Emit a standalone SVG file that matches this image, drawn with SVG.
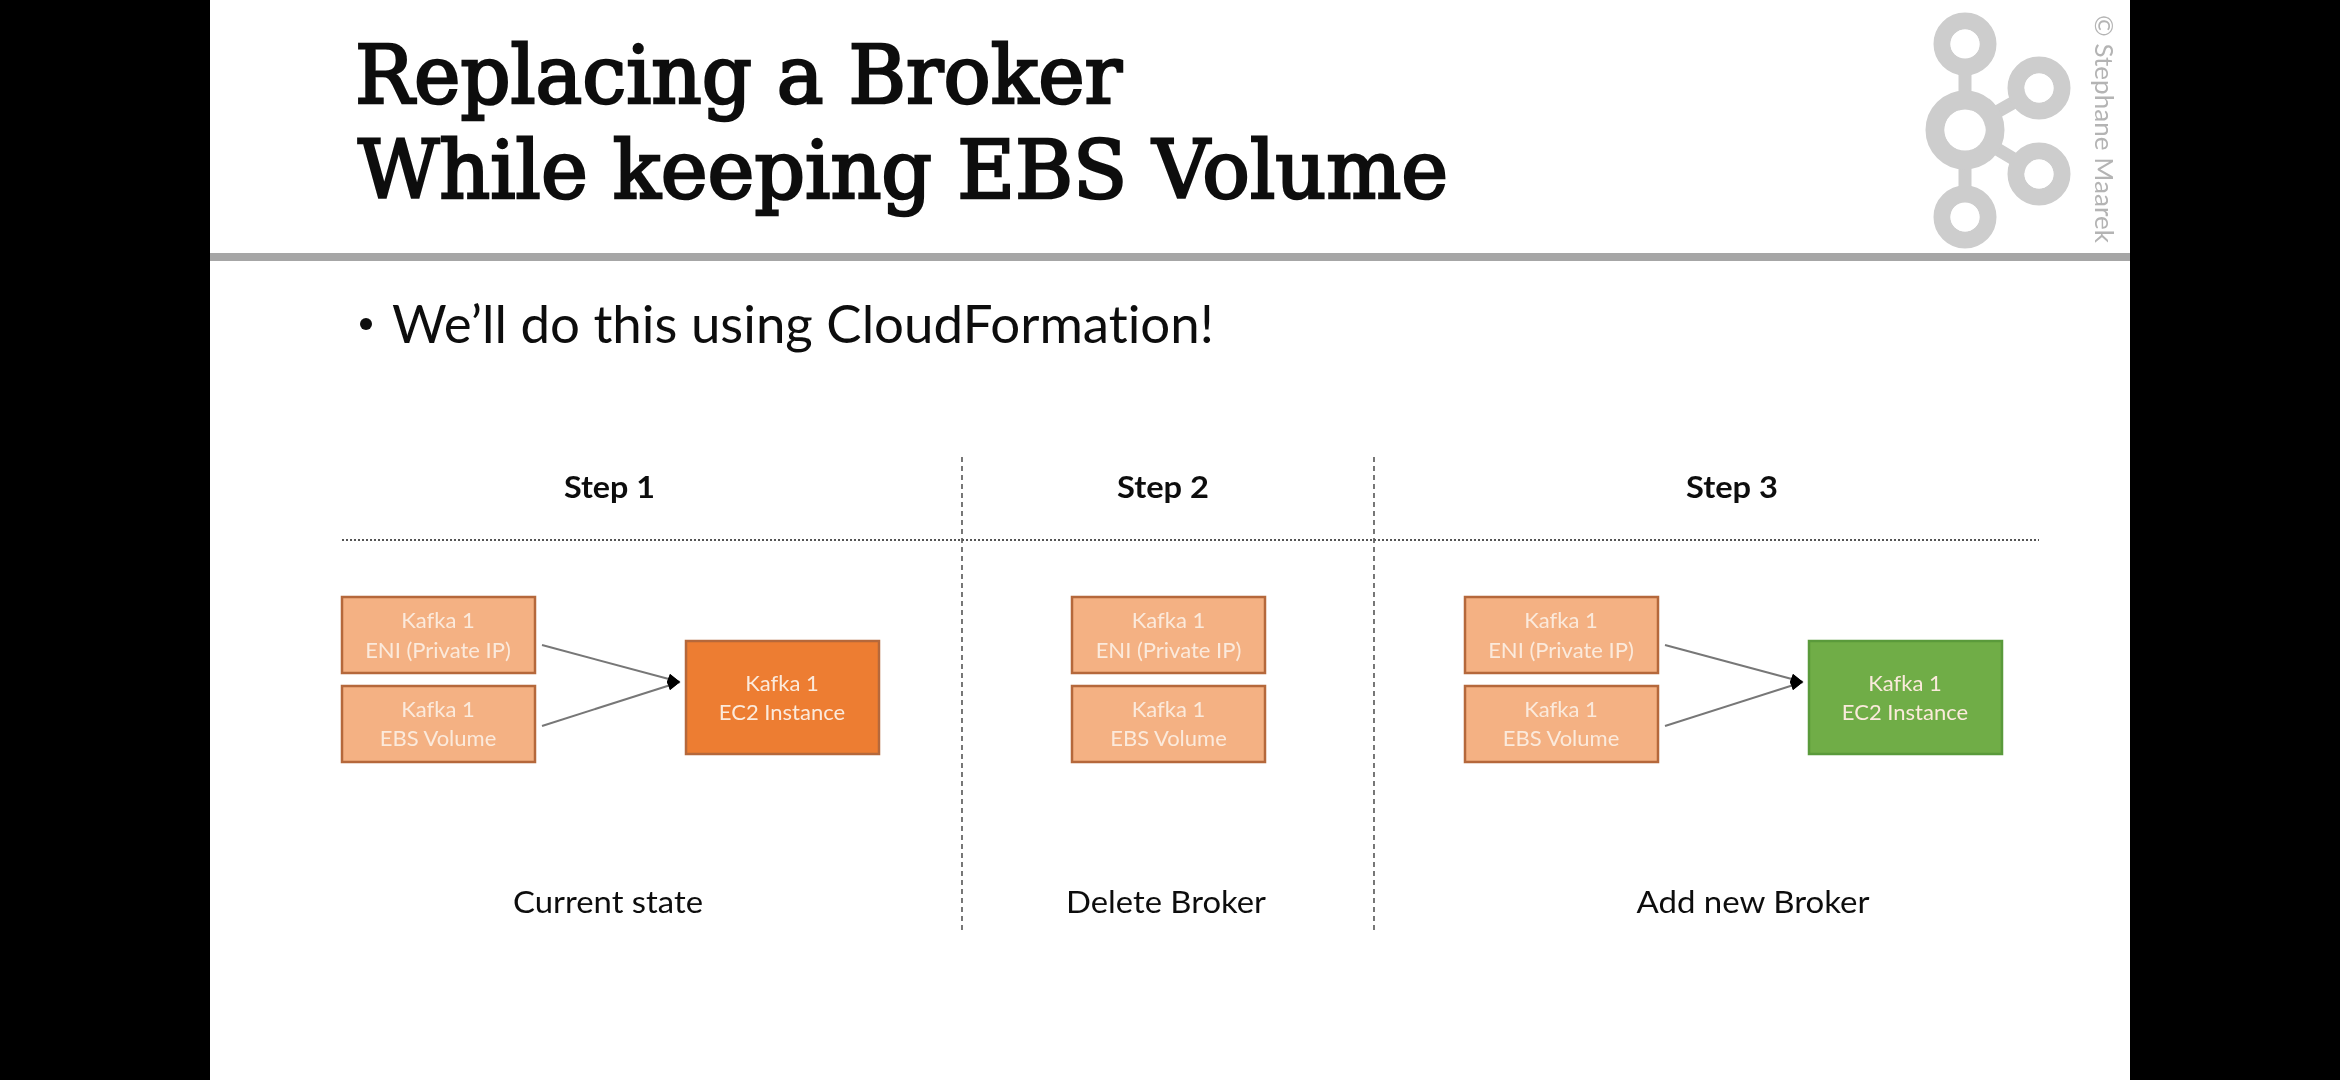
<svg xmlns="http://www.w3.org/2000/svg" width="2340" height="1080" viewBox="0 0 2340 1080">
<style>
text{font-variant-ligatures:none}
.title{font-family:"DejaVu Serif","Liberation Serif",serif;font-size:80px;fill:#0a0a0a;stroke:#0a0a0a;stroke-width:2.6px}
.body{font-family:Lato,"Open Sans",sans-serif;font-size:52px;fill:#111}
.step{font-family:Lato,"Open Sans",sans-serif;font-weight:700;font-size:31px;fill:#111;text-anchor:middle}
.cap{font-family:Lato,"Open Sans",sans-serif;font-size:31px;fill:#111;text-anchor:middle}
.lbl{font-family:Lato,"Open Sans",sans-serif;font-size:22px;fill:#fbeadc;text-anchor:middle}
.light{fill:#F4B183;stroke:#B5683A;stroke-width:2.5}
.orange{fill:#ED7D31;stroke:#B5683A;stroke-width:2.5}
.green{fill:#70AD47;stroke:#5A9A3A;stroke-width:2.5}
.conn{stroke:#777;stroke-width:2;fill:none;marker-end:url(#arrow)}
.vdash{stroke:#555;stroke-width:1.6;stroke-dasharray:5 4;fill:none}
.hdot{stroke:#555;stroke-width:2.2;stroke-dasharray:2 2;fill:none}
.ring{fill:none;stroke:#cdcdcd}
</style>
<defs>
<marker id="arrow" markerUnits="userSpaceOnUse" markerWidth="16" markerHeight="18" refX="13" refY="9" orient="0">
<path d="M0 9L3 1L13 9L3 17Z" fill="#000"/>
</marker>
<filter id="soft" filterUnits="userSpaceOnUse" x="0" y="0" width="2340" height="1080"><feGaussianBlur stdDeviation="0.6"/></filter>
</defs>
<rect width="2340" height="1080" fill="#000"/>
<rect id="slide" x="210" y="0" width="1920" height="1080" fill="#fff"/>
<g filter="url(#soft)">
<rect id="rule" x="210" y="253" width="1920" height="8" fill="#a6a6a6"/>
<g id="heading">
<text class="title" x="355" y="103" textLength="767" lengthAdjust="spacingAndGlyphs">Replacing a Broker</text>
<text class="title" x="358" y="198" textLength="1090" lengthAdjust="spacingAndGlyphs">While keeping EBS Volume</text>
<circle cx="366" cy="324" r="6" fill="#111"/>
<text class="body" x="392" y="343" textLength="822" lengthAdjust="spacingAndGlyphs">We’ll do this using CloudFormation!</text>
</g>
<g id="logo">
<path d="M1965 44V217M1965 130L2039 88M1965 130L2039 174" stroke="#cdcdcd" stroke-width="13" fill="none"/>
<circle class="ring" cx="1965" cy="44" r="23" stroke-width="17"/>
<circle class="ring" cx="1965" cy="130" r="30" stroke-width="19"/>
<circle class="ring" cx="2039" cy="88" r="23" stroke-width="17"/>
<circle class="ring" cx="2039" cy="174" r="23" stroke-width="17"/>
<circle class="ring" cx="1965" cy="217" r="23" stroke-width="17"/>
<circle cx="1965" cy="44" r="14.5" fill="#fff"/>
<circle cx="1965" cy="130" r="20.5" fill="#fff"/>
<circle cx="2039" cy="88" r="14.5" fill="#fff"/>
<circle cx="2039" cy="174" r="14.5" fill="#fff"/>
<circle cx="1965" cy="217" r="14.5" fill="#fff"/>
<text transform="translate(2095 15) rotate(90)" font-family="Lato,'Open Sans',sans-serif" font-size="25" fill="#b4b4b4" textLength="228" lengthAdjust="spacingAndGlyphs">© Stephane Maarek</text>
</g>
<g id="grid">
<path class="vdash" d="M962 457V931M1374 457V931"/>
<path class="hdot" d="M342 540H2039"/>
</g>
<g id="headers">
<text class="step" x="609.500" y="498" textLength="91" lengthAdjust="spacingAndGlyphs">Step 1</text>
<text class="step" x="1163" y="498" textLength="92" lengthAdjust="spacingAndGlyphs">Step 2</text>
<text class="step" x="1732" y="498" textLength="92" lengthAdjust="spacingAndGlyphs">Step 3</text>
</g>
<g id="connectors">
<path class="conn" d="M542 645L680 682"/>
<path class="conn" d="M542 726L680 682"/>
<path class="conn" d="M1665 645L1803 682"/>
<path class="conn" d="M1665 726L1803 682"/>
</g>
<g id="s1-eni"><rect class="light" x="342" y="597" width="193" height="76"/><text class="lbl" x="438" y="628">Kafka 1</text><text class="lbl" x="438" y="658">ENI (Private IP)</text></g>
<g id="s1-ebs"><rect class="light" x="342" y="686" width="193" height="76"/><text class="lbl" x="438" y="717">Kafka 1</text><text class="lbl" x="438" y="746">EBS Volume</text></g>
<g id="s1-ec2"><rect class="orange" x="686" y="641" width="193" height="113"/><text class="lbl" x="782" y="691">Kafka 1</text><text class="lbl" x="782" y="720">EC2 Instance</text></g>
<g id="s2-eni"><rect class="light" x="1072" y="597" width="193" height="76"/><text class="lbl" x="1168.500" y="628">Kafka 1</text><text class="lbl" x="1168.500" y="658">ENI (Private IP)</text></g>
<g id="s2-ebs"><rect class="light" x="1072" y="686" width="193" height="76"/><text class="lbl" x="1168.500" y="717">Kafka 1</text><text class="lbl" x="1168.500" y="746">EBS Volume</text></g>
<g id="s3-eni"><rect class="light" x="1465" y="597" width="193" height="76"/><text class="lbl" x="1561" y="628">Kafka 1</text><text class="lbl" x="1561" y="658">ENI (Private IP)</text></g>
<g id="s3-ebs"><rect class="light" x="1465" y="686" width="193" height="76"/><text class="lbl" x="1561" y="717">Kafka 1</text><text class="lbl" x="1561" y="746">EBS Volume</text></g>
<g id="s3-ec2"><rect class="green" x="1809" y="641" width="193" height="113"/><text class="lbl" x="1905" y="691">Kafka 1</text><text class="lbl" x="1905" y="720">EC2 Instance</text></g>
<g id="captions">
<text class="cap" x="608" y="913" textLength="190" lengthAdjust="spacingAndGlyphs">Current state</text>
<text class="cap" x="1166" y="913" textLength="200" lengthAdjust="spacingAndGlyphs">Delete Broker</text>
<text class="cap" x="1753" y="913" textLength="233" lengthAdjust="spacingAndGlyphs">Add new Broker</text>
</g>
</g>
</svg>
